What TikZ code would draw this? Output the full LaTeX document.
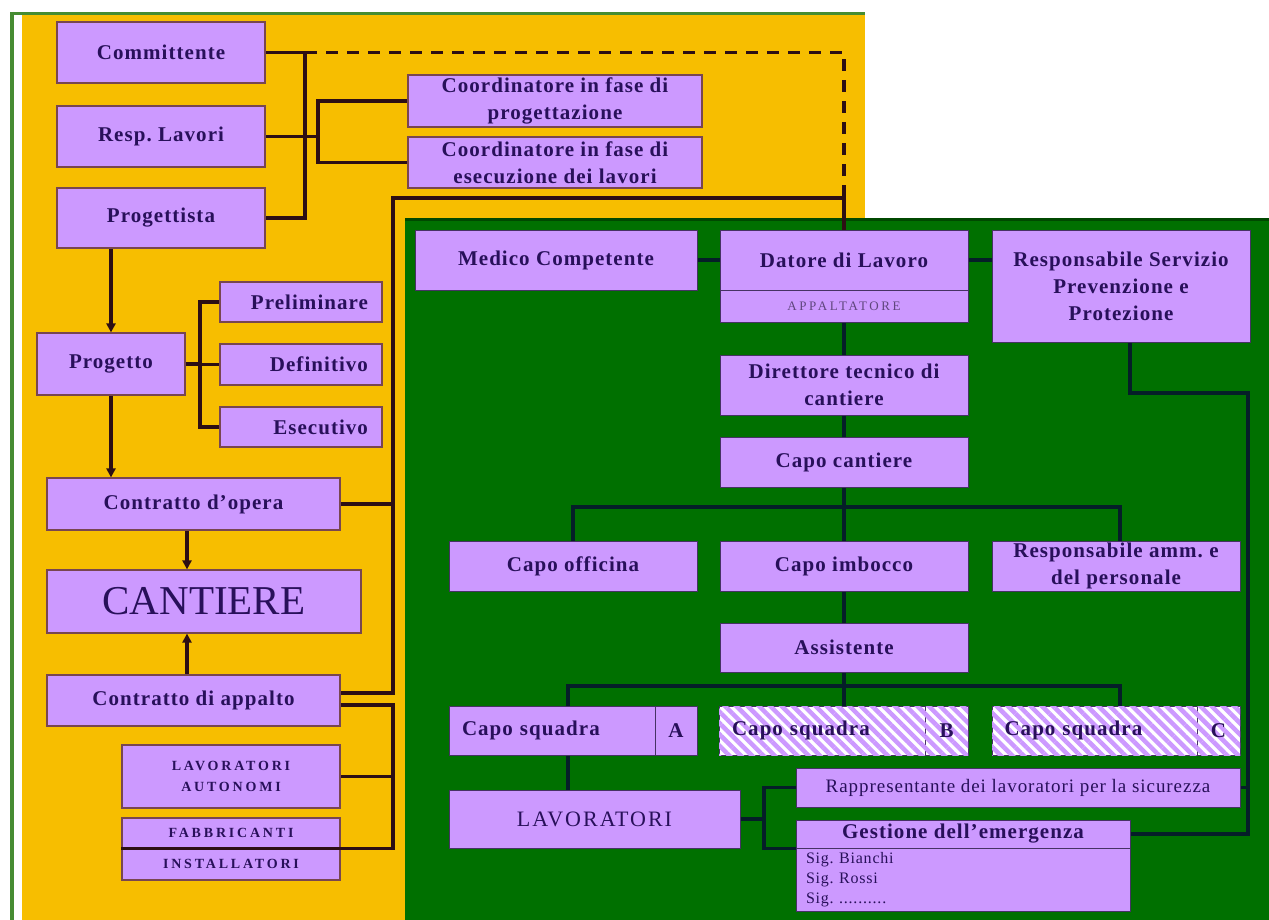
\documentclass[tikz,border=0pt]{standalone}
\usepackage{fontspec}
\setmainfont{Liberation Serif}
\usetikzlibrary{arrows.meta,patterns.meta}
\frenchspacing
\definecolor{lav}{RGB}{204,153,255}
\definecolor{yel}{RGB}{247,190,0}
\definecolor{grn}{RGB}{0,112,0}
\definecolor{grnD}{RGB}{0,72,0}
\definecolor{frg}{RGB}{70,140,50}
\definecolor{txt}{RGB}{40,16,90}
\definecolor{appc}{RGB}{95,70,125}
\definecolor{lnY}{RGB}{45,15,20}
\definecolor{lnG}{RGB}{5,30,40}
\definecolor{bxl}{RGB}{120,70,80}
\definecolor{gbl}{RGB}{70,50,100}
\newcommand\fBold{\fontsize{21}{27}\selectfont\bfseries\addfontfeatures{LetterSpace=5}}
\newcommand\fCant{\fontsize{41}{45}\selectfont}
\newcommand\fSC{\fontsize{14}{21}\selectfont\bfseries\addfontfeatures{LetterSpace=20}}
\newcommand\fApp{\fontsize{13}{15}\selectfont\addfontfeatures{LetterSpace=20}}
\newcommand\fLav{\fontsize{22}{26}\selectfont\addfontfeatures{LetterSpace=9}}
\newcommand\fRapp{\fontsize{19}{22}\selectfont\addfontfeatures{LetterSpace=5}}
\newcommand\fSig{\fontsize{16}{20}\selectfont\addfontfeatures{LetterSpace=5}}
\pgfdeclarelayer{back}
\pgfdeclarelayer{lines}
\pgfsetlayers{back,lines,main}
\begin{document}
\begin{tikzpicture}[x=1pt,y=-1pt,
  bx/.style={draw=bxl, line width=1.2pt, fill=lav, text=txt, inner sep=0pt, font=\fBold, align=center},
  gb/.style={bx, draw=gbl, line width=0.8pt},
  ln/.style={draw=lnY, line width=3.5pt},
  lg/.style={draw=lnG, line width=3.5pt},
  arr/.style={ln, -{Triangle[length=9pt,width=9pt]}},
  hat/.style={fill=white, postaction={pattern={Lines[angle=-45,distance=8pt,line width=4.5pt]}, pattern color=lav}}
]
\useasboundingbox (0,0) rectangle (1269,920);
% ---- left (yellow) part
\node[bx, minimum width=208, minimum height=61] (comm) at (161,52.5) {Committente};
\node[bx, minimum width=208, minimum height=61] (resp) at (161,136.5) {Resp. Lavori};
\node[bx, minimum width=208, minimum height=60] (prog) at (161,218) {Progettista};
\node[bx, minimum width=294, minimum height=52] (cprog) at (555,101) {Coordinatore in fase di\\progettazione};
\node[bx, minimum width=294, minimum height=51] (cese) at (555,162.5) {Coordinatore in fase di\\esecuzione dei lavori};
\node[bx, minimum width=162, minimum height=40, text width=134, align=right] (prel) at (301,302) {Preliminare};
\node[bx, minimum width=148, minimum height=62] (progetto) at (111,364) {Progetto};
\node[bx, minimum width=162, minimum height=41, text width=134, align=right] (defin) at (301,364.5) {Definitivo};
\node[bx, minimum width=162, minimum height=40, text width=134, align=right] (esec) at (301,427) {Esecutivo};
\node[bx, minimum width=293, minimum height=52] (copera) at (193.5,504) {Contratto d'opera};
\node[bx, font=\fCant, minimum width=314, minimum height=63] (cantiere) at (204,601.5) {CANTIERE};
\node[bx, minimum width=293, minimum height=51] (cappalto) at (193.5,700.5) {Contratto di appalto};
\node[bx, font=\fSC, minimum width=218, minimum height=63] (lavaut) at (231,776.5) {LAVORATORI\\AUTONOMI};
\node[bx, font=\fSC, minimum width=218, minimum height=30] (fabb) at (231,833) {FABBRICANTI};
\node[bx, font=\fSC, minimum width=218, minimum height=32] (inst) at (231,864) {INSTALLATORI};
% ---- right (green) part
\node[gb, minimum width=282, minimum height=60] (medico) at (556,260) {Medico Competente};
\node[gb, minimum width=248, minimum height=60] (datore) at (844,260) {Datore di Lavoro};
\node[gb, font=\fApp, text=appc, minimum width=248, minimum height=32] (appalt) at (844,306) {APPALTATORE};
\node[gb, minimum width=258, minimum height=112] (rspp) at (1121,286) {Responsabile Servizio\\Prevenzione e\\Protezione};
\node[gb, minimum width=248, minimum height=60] (dirtec) at (844,385) {Direttore tecnico di\\cantiere};
\node[gb, minimum width=248, minimum height=50] (capocant) at (844,462) {Capo cantiere};
\node[gb, minimum width=248, minimum height=50] (capooff) at (573,566) {Capo officina};
\node[gb, minimum width=248, minimum height=50] (capoimb) at (844,566) {Capo imbocco};
\node[gb, minimum width=248, minimum height=50] (respamm) at (1116,566) {Responsabile amm. e\\del personale};
\node[gb, minimum width=248, minimum height=49] (assist) at (844,647.5) {Assistente};
\node[gb, minimum width=206, minimum height=49, text width=180, align=left] (csA) at (552,730.5) {Capo squadra};
\node[gb, minimum width=42, minimum height=49] (letA) at (676,730.5) {A};
\node[gb, hat, minimum width=206, minimum height=49, text width=180, align=left] (csB) at (822,730.5) {Capo squadra};
\node[gb, hat, minimum width=43, minimum height=49] (letB) at (946.5,730.5) {B};
\node[gb, hat, minimum width=205, minimum height=49, text width=180, align=left] (csC) at (1094.5,730.5) {Capo squadra};
\node[gb, hat, minimum width=43, minimum height=49] (letC) at (1218.5,730.5) {C};
\node[gb, font=\fLav, minimum width=291, minimum height=58] (lavor) at (594.5,819) {LAVORATORI};
\node[gb, font=\fRapp, minimum width=444, minimum height=39] (rapp) at (1018,787.5) {Rappresentante dei lavoratori per la sicurezza};
\node[gb, minimum width=334, minimum height=28] (gest) at (963,834) {Gestione dell'emergenza};
\node[gb, font=\fSig, anchor=north, minimum width=334, minimum height=63, text width=314, align=left] (gbody) at (963,848) {Sig. Bianchi\\Sig. Rossi\\Sig. ..........};
\draw[ln] (fabb.south west) -- (fabb.south east);
% ---- backgrounds
\begin{pgfonlayer}{back}
\fill[white] (0,0) rectangle (1269,920);
\fill[yel] (22,15) rectangle (865,920);
\draw[frg, line width=3pt] (10,13.5) -- (865,13.5);
\draw[frg, line width=4pt] (12,12) -- (12,920);
\fill[grn] (405,219) rectangle (1269,920);
\draw[grnD, line width=3pt] (405,219.5) -- (1269,219.5);
\end{pgfonlayer}
% ---- connectors
\begin{pgfonlayer}{lines}
\coordinate (jv) at (305,0);
\coordinate (jv2) at (318,0);
\coordinate (jx) at (393,0);
\coordinate (px) at (200,0);
\coordinate (cx) at (187,0);
\coordinate (topY) at (0,198);
\coordinate (dashEnd) at (0,190);
\draw[ln] (comm.east) -- (comm.east -| jv) -- (prog.east -| jv) -- (prog.east);
\draw[ln] (resp.east) -- (resp.east -| jv2);
\draw[ln] (cprog.west) -- (cprog.west -| jv2) -- (cese.west -| jv2) -- (cese.west);
\draw[ln, dash pattern=on 12pt off 9pt] (comm.east -| jv) -- (comm.east -| datore.north) -- (dashEnd -| datore.north);
\draw[ln] (dashEnd -| datore.north) -- (datore.north);
\draw[ln] (copera.east) -- (copera.east -| jx) -- (topY -| jx) -- (topY -| datore.north);
\draw[ln] ([yshift=7.5pt]cappalto.east) -| (copera.east -| jx);
\draw[ln] ([yshift=-4.5pt]cappalto.east) -| (fabb.south -| jx) -- (fabb.south east);
\draw[ln] (lavaut.east) -- (lavaut.east -| jx);
\draw[ln] (progetto.east) -- (progetto.east -| px);
\draw[ln] (prel.west) -- (prel.west -| px) -- (esec.west -| px) -- (esec.west);
\draw[ln] (defin.west) -- (defin.west -| px);
\draw[arr] (prog.south -| progetto.north) -- (progetto.north);
\draw[arr] (progetto.south) -- (progetto.south |- copera.north);
\draw[arr] (copera.south -| cx) -- (cantiere.north -| cx);
\draw[arr] (cappalto.north -| cx) -- (cantiere.south -| cx);
% green
\coordinate (h1) at (0,507);
\coordinate (h2) at (0,686);
\coordinate (h3) at (0,393);
\coordinate (xa) at (568,0);
\coordinate (xc) at (1120,0);
\coordinate (xl) at (764,0);
\coordinate (xr) at (1130,0);
\coordinate (xR) at (1248,0);
\draw[lg] (medico.east) -- (datore.west);
\draw[lg] (datore.east) -- (datore.east -| rspp.west);
\draw[lg] (appalt.south) -- (dirtec.north);
\draw[lg] (dirtec.south) -- (capocant.north);
\draw[lg] (capocant.south) -- (capoimb.north);
\draw[lg] (capooff.north) -- (capooff.north |- h1) -- (h1 -| xc) -- (respamm.north -| xc);
\draw[lg] (capoimb.south) -- (assist.north);
\draw[lg] (assist.south) -- (assist.south |- csB.north);
\draw[lg] (csA.north -| xa) -- (h2 -| xa) -- (h2 -| xc) -- (csC.north -| xc);
\draw[lg] (csA.south -| xa) -- (lavor.north -| xa);
\draw[lg] (lavor.east) -- (lavor.east -| xl);
\draw[lg] (rapp.west) -- (rapp.west -| xl) -- (gest.south -| xl) -- (gest.south west);
\draw[lg] (rspp.south -| xr) -- (h3 -| xr) -- (h3 -| xR) -- (gest.east -| xR) -- (gest.east);
\draw[lg] (rapp.east) -- (rapp.east -| xR);
\end{pgfonlayer}
\end{tikzpicture}
\end{document}
